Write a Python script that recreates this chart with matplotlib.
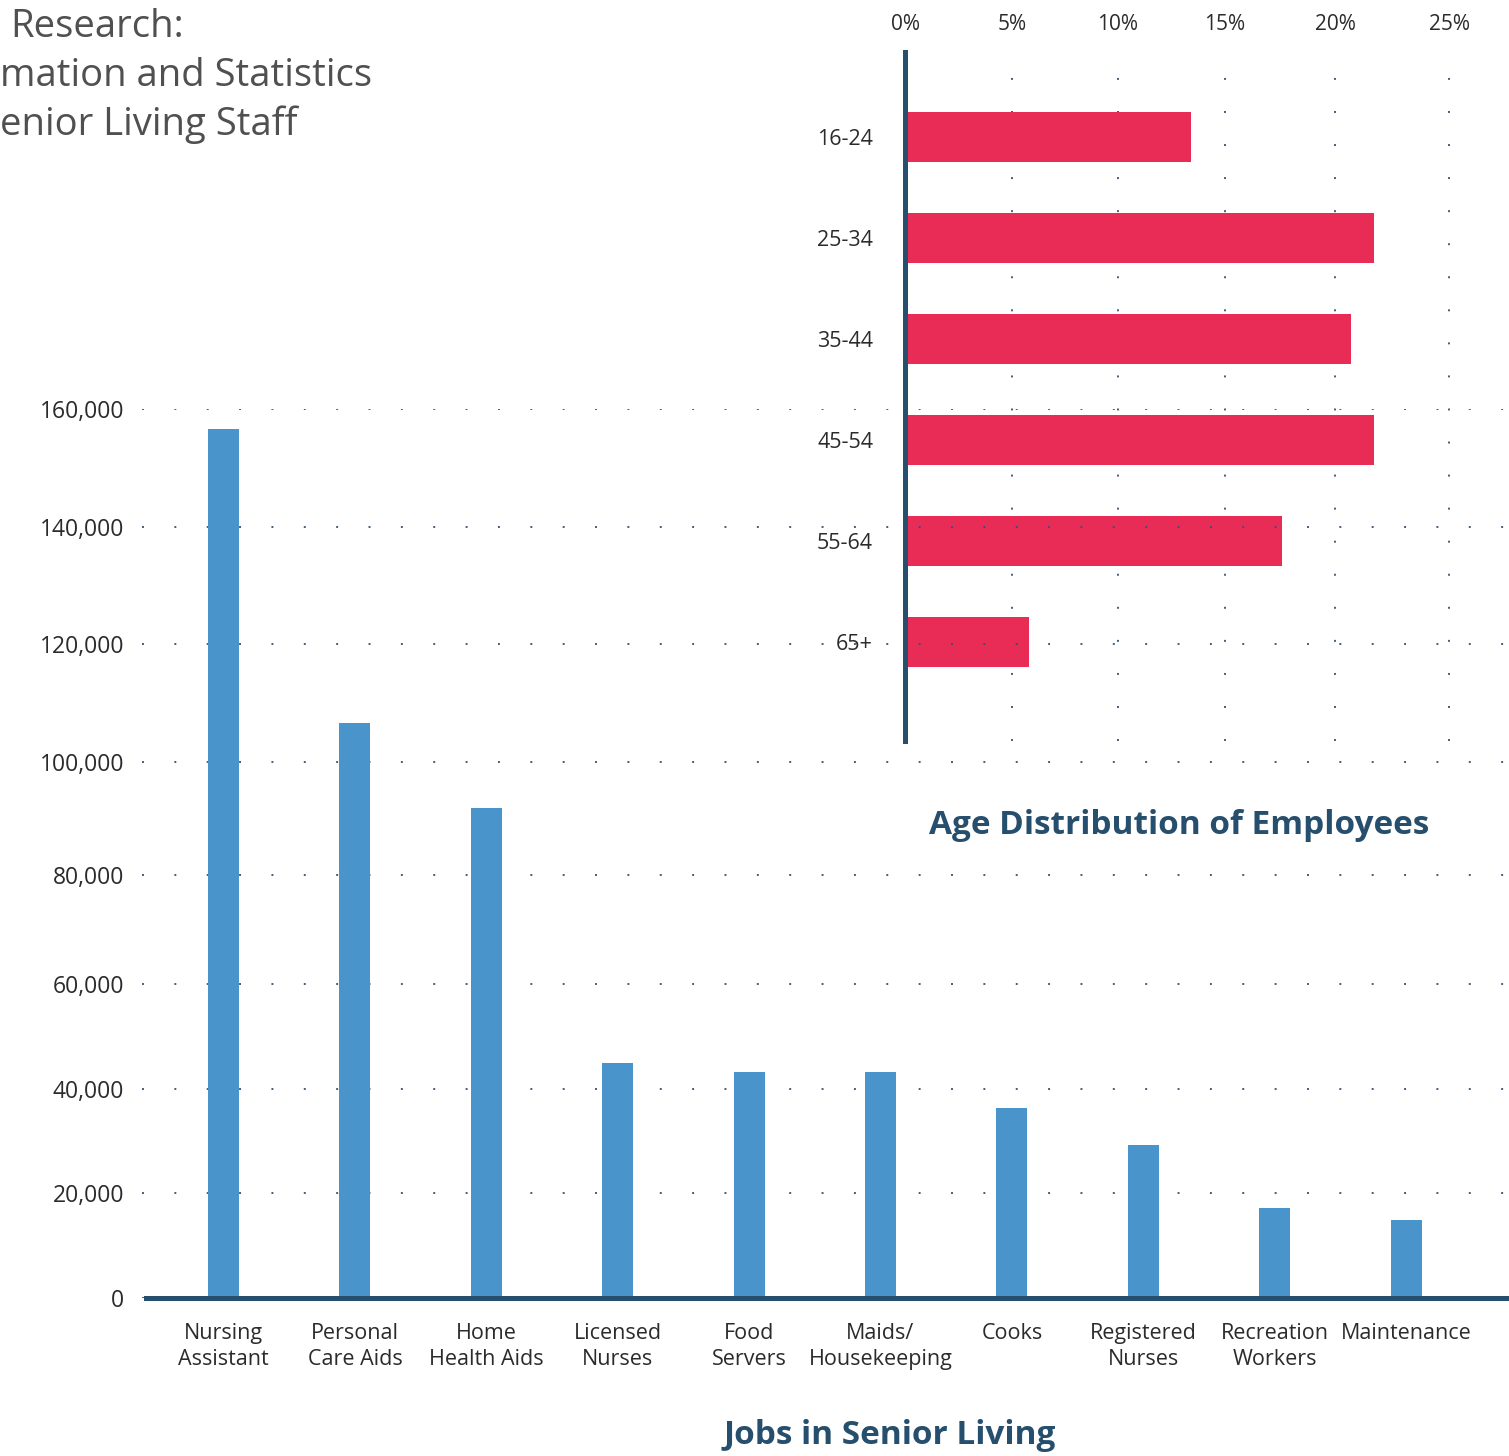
import numpy as np
import matplotlib
matplotlib.use("Agg")
import matplotlib.pyplot as plt

# ---- data -------------------------------------------------------------
jobs = ["Nursing\nAssistant", "Personal\nCare Aids", "Home\nHealth Aids",
        "Licensed\nNurses", "Food\nServers", "Maids/\nHousekeeping", "Cooks",
        "Registered\nNurses", "Recreation\nWorkers", "Maintenance"]
job_counts = [156600, 106600, 91900, 45000, 43200, 43200, 36300, 29200, 17100, 14900]
count_ticks = [0, 20000, 40000, 60000, 80000, 100000, 120000, 140000, 160000]

age_groups = ["16-24", "25-34", "35-44", "45-54", "55-64", "65+"]
age_share = [13.4, 21.7, 20.7, 21.7, 17.6, 5.8]
share_ticks = [0, 5, 10, 15, 20, 25]

# ---- style ------------------------------------------------------------
plt.rcParams["font.family"] = ["Open Sans", "DejaVu Sans"]
plt.rcParams["lines.scale_dashes"] = False
BLUE = "#4894cb"
RED = "#e92c55"
NAVY = "#264e6d"
DOT = "#2f5273"
TXT = "#2b2b2b"
GREY = "#505050"

W, H = 1509, 1456
fig = plt.figure(figsize=(W / 100, H / 100), dpi=100)


def px_box(x0, x1, ytop, ybot):
    return [x0 / W, (H - ybot) / H, (x1 - x0) / W, (ybot - ytop) / H]


def warped(values, fracs):
    """Piecewise-linear axis scale through given (value, fraction) knots."""
    v = np.asarray(values, float)
    f = np.asarray(fracs, float)
    s0 = (f[1] - f[0]) / (v[1] - v[0])
    s1 = (f[-1] - f[-2]) / (v[-1] - v[-2])
    big = (v[-1] - v[0]) * 100
    vv = np.concatenate([[v[0] - big], v, [v[-1] + big]])
    ff = np.concatenate([[f[0] - big * s0], f, [f[-1] + big * s1]])

    def fwd(x):
        return np.interp(x, vv, ff)

    def inv(y):
        return np.interp(y, ff, vv)
    return fwd, inv


# ---- inset: age distribution (drawn underneath) -----------------------
ix0, ix1, iy_top, iy_bot = 905, 1509, 52, 741
axi = fig.add_axes(px_box(ix0, ix1, iy_top, iy_bot), zorder=1)
axi.patch.set_alpha(0)
share_px = [905, 1012, 1118, 1225, 1335, 1449]
share_max = 25 + (ix1 - share_px[-1]) / (share_px[-1] - share_px[-2]) * 5
fw, iv = warped(share_ticks + [share_max],
                [(p - ix0) / (ix1 - ix0) for p in share_px] + [1.0])
axi.set_xscale("function", functions=(fw, iv))
axi.set_xlim(0, share_max)
ypos = np.arange(len(age_groups))
axi.barh(ypos, age_share, height=0.5, color=RED, zorder=2)
axi.set_ylim((iy_bot - 137) / 101, -(137 - iy_top) / 101)
axi.set_yticks(ypos, age_groups)
axi.set_xticks(share_ticks, [f"{t}%" for t in share_ticks])
axi.xaxis.tick_top()
axi.tick_params(axis="x", length=0, pad=12, labelsize=15, labelcolor=TXT)
axi.tick_params(axis="y", length=0, pad=23, labelsize=15.5, labelcolor=TXT)
for s in ["top", "right", "bottom"]:
    axi.spines[s].set_visible(False)
axi.spines["left"].set_color(NAVY)
axi.spines["left"].set_linewidth(3.6)
axi.xaxis.grid(True, color=DOT, linewidth=1.3, linestyle=(0, (1.4, 22.4)))
axi.set_axisbelow(True)
fig.text(1179.5 / W, 1 - 825 / H, "Age Distribution of Employees",
         ha="center", va="center", fontsize=24, fontweight="bold", color=NAVY)

# ---- main: jobs in senior living ---------------------------------------
mx0, mx1, my_top, my_bot = 142, 1509, 409, 1298
ax = fig.add_axes(px_box(mx0, mx1, my_top, my_bot), zorder=2)
ax.patch.set_alpha(0)
count_px = [1298, 1193, 1089, 984, 875, 762, 644, 527, 409]
fw, iv = warped(count_ticks, [(my_bot - p) / (my_bot - my_top) for p in count_px])
ax.set_yscale("function", functions=(fw, iv))
ax.set_ylim(0, 160000)
xpos = np.arange(len(jobs))
step, first = 131.4, 223.5
ax.set_xlim((mx0 - first) / step, (mx1 - first) / step)
ax.bar(xpos, job_counts, width=31 / step, color=BLUE, zorder=2)
ax.set_yticks(count_ticks, [f"{t:,}" for t in count_ticks])
ax.set_xticks(xpos, jobs)
ax.tick_params(axis="y", length=0, pad=13, labelsize=16.5, labelcolor=TXT)
ax.tick_params(axis="x", length=0, pad=18, labelsize=15.5, labelcolor=TXT)
for lbl in ax.get_xticklabels():
    lbl.set_linespacing(1.3)
for s in ["top", "right", "left"]:
    ax.spines[s].set_visible(False)
ax.spines["bottom"].set_color(NAVY)
ax.spines["bottom"].set_linewidth(3.6)
ax.spines["bottom"].set_bounds((146 - first) / step, (mx1 - first) / step)
ax.yaxis.grid(True, color=DOT, linewidth=1.3, linestyle=(0, (1.4, 21.9)))
ax.set_axisbelow(True)
fig.text(889.5 / W, 1 - 1435 / H, "Jobs in Senior Living",
         ha="center", va="center", fontsize=24, fontweight="bold", color=NAVY)

# ---- heading ----------------------------------------------------------
for x, y, s in [(10, 37, "Research:"), (0, 86, "mation and Statistics"),
                (0, 135, "enior Living Staff")]:
    fig.text(x / W, 1 - y / H, s, ha="left", va="baseline",
             fontsize=27.5, color=GREY)

fig.savefig("out.png", dpi=100)
